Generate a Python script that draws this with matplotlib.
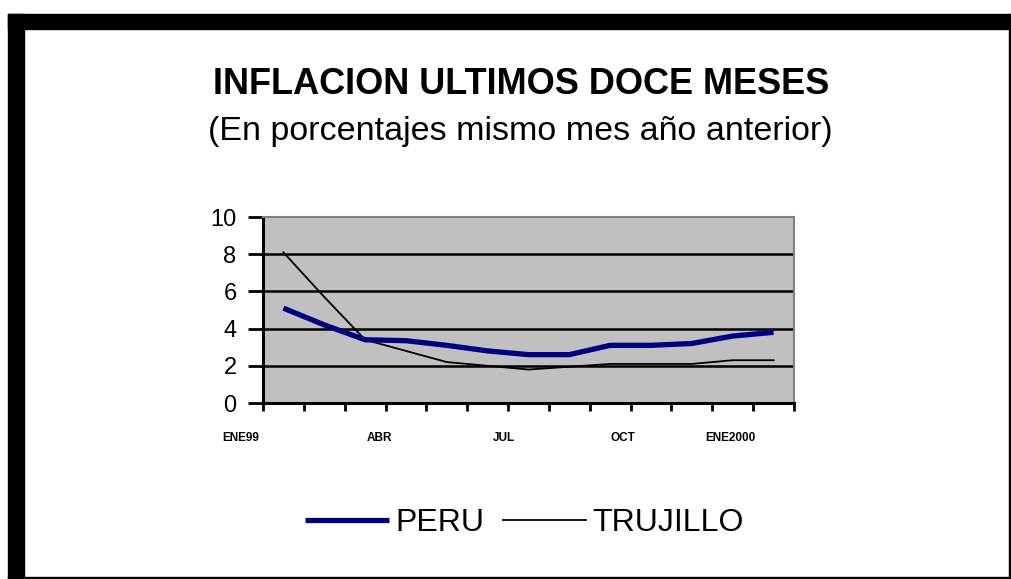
import matplotlib.pyplot as plt
from matplotlib.patches import Rectangle
import matplotlib.transforms as mtransforms
import numpy as np

plt.rcParams['font.family'] = ['Liberation Sans', 'DejaVu Sans']

# Data (monthly, ENE 99 .. ENE 2000)
months = ['ENE99', 'FEB', 'MAR', 'ABR', 'MAY', 'JUN', 'JUL', 'AGO', 'SET',
          'OCT', 'NOV', 'DIC', 'ENE2000']
peru = [5.1, 4.2, 3.4, 3.35, 3.1, 2.8, 2.6, 2.6, 3.1, 3.1, 3.2, 3.6, 3.8]
trujillo = [8.1, 5.7, 3.4, 2.8, 2.2, 2.0, 1.8, 1.95, 2.1, 2.1, 2.1, 2.3, 2.3]
label_months = ['ENE99', 'ABR', 'JUL', 'OCT', 'ENE2000']
# where the old chart drew its (shifted) month labels, in category units
label_pos = [-1.05, 2.35, 5.4, 8.3, 10.95]

fig = plt.figure(figsize=(10.11, 5.79), dpi=100)
W, H = 1011, 579

# black frame of the original picture
def px_rect(x0, y0, x1, y1):
    fig.patches.append(Rectangle((x0 / W, 1 - y1 / H), (x1 - x0) / W, (y1 - y0) / H,
                                 transform=fig.transFigure, color='black', zorder=0))

px_rect(8, 14, 1011, 29)
px_rect(8, 14, 24, 579)
px_rect(1009, 14, 1011, 579)
px_rect(8, 577, 1011, 579)

ax = fig.add_axes([263 / W, 1 - 403 / H, (794 - 263) / W, (403 - 217) / H])
ax.set_facecolor('#c0c0c0')

x = np.arange(len(months))
for yv in [2, 4, 6, 8]:
    ax.axhline(yv, color='black', lw=1.8, zorder=1)
ax.plot(x, peru, color='#000080', lw=3.8, solid_capstyle='butt', zorder=3, label='PERU')
ax.plot(x, trujillo, color='black', lw=1.3, zorder=2, label='TRUJILLO')

ax.set_yticks(range(0, 11, 2))
ax.tick_params(axis='y', length=11, width=2, labelsize=17, pad=8)

ax.set_xticks(np.arange(-0.5, len(months)))
ax.set_xticklabels([])
ax.tick_params(axis='x', length=6, width=2, direction='out')
ax.set_xlim(-0.5, len(months) - 0.5)
ax.set_ylim(0, 10)

trans = mtransforms.blended_transform_factory(ax.transData, ax.transAxes)
for lab, pos in zip(label_months, label_pos):
    ax.text(pos, -0.19, lab, transform=trans, ha='center', va='center',
            fontsize=8.5, fontweight='bold', clip_on=False)

for s in ['top', 'right']:
    ax.spines[s].set_color('#808080')
    ax.spines[s].set_linewidth(1.5)
for s in ['left', 'bottom']:
    ax.spines[s].set_color('black')
    ax.spines[s].set_linewidth(2.2)

fig.text(0.515, 1 - 84 / H, 'INFLACION ULTIMOS DOCE MESES', ha='center', va='center',
         fontsize=26, fontweight='bold')
fig.text(0.515, 1 - 131 / H, '(En porcentajes mismo mes año anterior)', ha='center',
         va='center', fontsize=24.5)

fig.legend(loc='center', bbox_to_anchor=(0.519, 1 - 523 / H), ncol=2, frameon=False,
           fontsize=23, handlelength=2.6, handletextpad=0.2, columnspacing=0.6)

fig.savefig('out.png', dpi=100)
